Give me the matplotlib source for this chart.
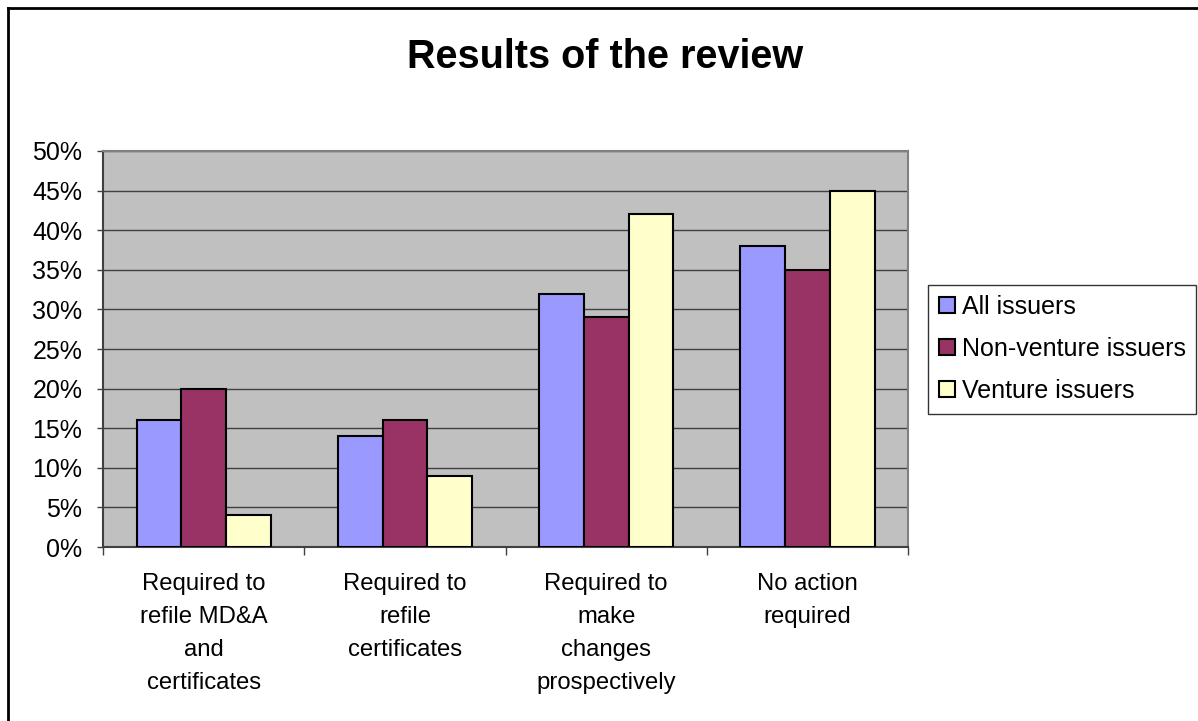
import matplotlib
matplotlib.use("Agg")
import numpy as np
import matplotlib.pyplot as plt
from matplotlib.lines import Line2D

plt.rcParams['font.family'] = ['Liberation Sans', 'DejaVu Sans']

categories = ["Required to\nrefile MD&A\nand\ncertificates",
              "Required to\nrefile\ncertificates",
              "Required to\nmake\nchanges\nprospectively",
              "No action\nrequired"]
series_names = ["All issuers", "Non-venture issuers", "Venture issuers"]
all_issuers = [16, 14, 32, 38]
non_venture = [20, 16, 29, 35]
venture = [4, 9, 42, 45]
colors = ["#9999FF", "#993366", "#FFFFCC"]

fig = plt.figure(figsize=(11.98, 7.21), dpi=100)
ax = fig.add_axes([0.086, 0.2413, 0.672, 0.5493])
ax.set_facecolor("#C0C0C0")

x = np.arange(len(categories))
w = 1.0 / 4.5
for i, (vals, name) in enumerate(zip([all_issuers, non_venture, venture], series_names)):
    ax.bar(x + (i - 1) * w, vals, w, color=colors[i], edgecolor="black",
           linewidth=1.5, label=name, zorder=3)

ax.set_xlim(-0.5, len(categories) - 0.5)
ax.set_ylim(0, 50)
ax.set_yticks(np.arange(0, 51, 5))
ax.set_yticklabels([f"{v}%" for v in range(0, 51, 5)], fontsize=18)
ax.yaxis.grid(True, color="#404040", linewidth=1, zorder=0)
ax.set_axisbelow(True)

ax.set_xticks(x)
ax.set_xticklabels(categories, fontsize=17.2, linespacing=1.66, va="top")
ax.tick_params(axis="x", length=0, pad=18.5)
ax.set_xticks(np.arange(-0.5, len(categories), 1), minor=True)
ax.tick_params(axis="x", which="minor", length=5.8, width=1, color="#404040")
ax.tick_params(axis="y", length=4.3, width=1, color="#404040", pad=10.5)

for side in ["top", "right"]:
    ax.spines[side].set_color("#808080")
    ax.spines[side].set_linewidth(1.5)
for side in ["left", "bottom"]:
    ax.spines[side].set_color("#404040")
    ax.spines[side].set_linewidth(1.5)

fig.text(0.5055, 0.921, "Results of the review", ha="center", va="center",
         fontsize=28.5, fontweight="bold")

leg = ax.legend(loc="center left", bbox_to_anchor=(1.025, 0.5), fontsize=18,
                frameon=True, fancybox=False, edgecolor="black",
                handlelength=0.64, handleheight=0.64, handletextpad=0.28,
                labelspacing=0.72, borderpad=0.42, borderaxespad=0)
leg.get_frame().set_linewidth(1)

# outer chart frame (only top and left edges fall inside the image)
fig.lines.append(Line2D([8 / 1198, 8 / 1198], [0, 1 - 8 / 721],
                        transform=fig.transFigure, color="black", linewidth=2))
fig.lines.append(Line2D([8 / 1198, 1], [1 - 8 / 721, 1 - 8 / 721],
                        transform=fig.transFigure, color="black", linewidth=2))

plt.savefig("out.png", dpi=100)
